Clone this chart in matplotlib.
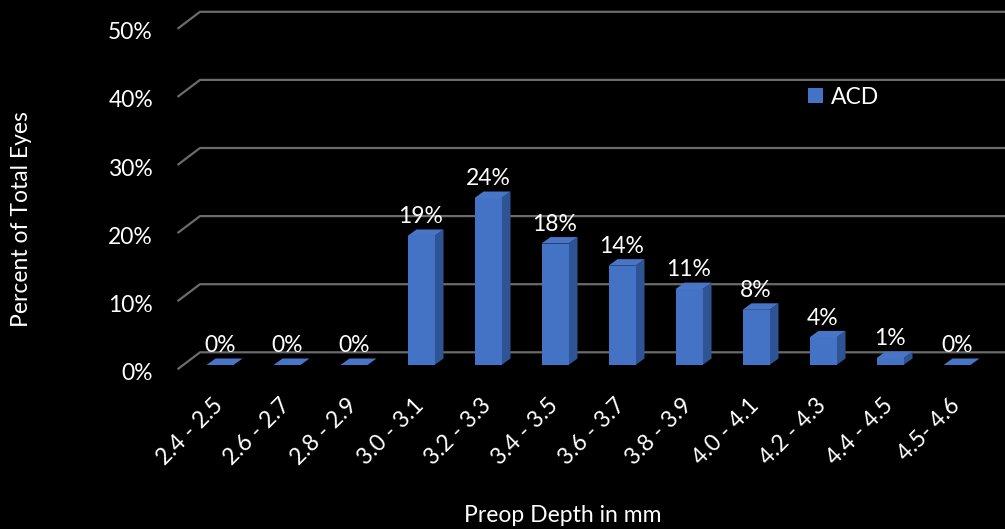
"""
Distribution of preop anterior chamber depth (ACD), drawn as an Excel-style
3D column chart on a black background.

Matplotlib has no oblique 3D bars, so the front faces are ordinary ax.bar
rectangles and the top / side faces are polygons offset by a fixed depth.
The back-wall gridlines live on their own axes because the wall sits a
little further back than the bars.
"""

import matplotlib.pyplot as plt
from matplotlib.patches import Polygon

plt.rcParams["font.family"] = ["Lato", "DejaVu Sans"]

# --- data ---------------------------------------------------------------
CATEGORIES = ["2.4 - 2.5", "2.6 - 2.7", "2.8 - 2.9", "3.0 - 3.1", "3.2 - 3.3",
              "3.4 - 3.5", "3.6 - 3.7", "3.8 - 3.9", "4.0 - 4.1", "4.2 - 4.3",
              "4.4 - 4.5", "4.5- 4.6"]
ACD_PCT = [0.0, 0.0, 0.0, 18.7, 24.2, 17.6, 14.4, 11.0, 8.0, 4.0, 1.0, 0.0]
Y_TICKS = [0, 10, 20, 30, 40, 50]
SERIES = "ACD"
X_LABEL = "Preop Depth in mm"
Y_LABEL = "Percent of Total Eyes"

# --- look & layout (pixels of a 1005x529 canvas) --------------------------
W, H, DPI = 1005, 529, 100
FRONT, SIDE, TOP = "#4472C4", "#2F5496", "#4875C6"
GRID = "#6b6b6b"
FS = 16.5

CAT0_PX, STEP_PX = 220, 67          # first category centre, category pitch
AX_LEFT_PX = 153
BAR_BASE_PX, BAR_SCALE = 365, 6.9   # y=0 of bar front faces, px per %
WALL_BASE_PX, WALL_SCALE = 352.3, 6.81
WALL_LEFT_PX, FRONT_LEFT_PX, FRONT_DROP_PX = 200, 177.5, 17
BAR_W = 27 / STEP_PX
DEPTH_X, DEPTH_Y = 9 / STEP_PX, 6.5 / BAR_SCALE


def px_x(px):
    return (px - CAT0_PX) / STEP_PX


def make_axes(fig, base_px, scale):
    ax = fig.add_axes([AX_LEFT_PX / W, (H - base_px) / H,
                       (W - AX_LEFT_PX) / W, base_px / H])
    ax.set_xlim(px_x(AX_LEFT_PX), px_x(W))
    ax.set_ylim(0, base_px / scale)
    ax.set_facecolor("none")
    for s in ax.spines.values():
        s.set_visible(False)
    ax.set_yticks([])
    return ax


def draw_wall(wall):
    wall.set_xticks([])
    x_front, x_back = px_x(FRONT_LEFT_PX), px_x(WALL_LEFT_PX)
    drop = FRONT_DROP_PX / WALL_SCALE
    for v in Y_TICKS:
        wall.plot([x_front, x_back, px_x(W) + 1], [v - drop, v, v],
                  color=GRID, lw=1.6, clip_on=False, solid_capstyle="butt")
        wall.text(px_x(AX_LEFT_PX), v - drop - 10.5 / WALL_SCALE, f"{v}%",
                  ha="right", va="baseline", color="white", fontsize=FS)


def draw_bars(ax):
    xs = list(range(len(CATEGORIES)))
    bars = ax.bar(xs, ACD_PCT, width=BAR_W, color=FRONT, label=SERIES,
                  clip_on=False, zorder=3)
    for x, v in zip(xs, ACD_PCT):
        l, r = x - BAR_W / 2, x + BAR_W / 2
        top = [(l, v), (r, v), (r + DEPTH_X, v + DEPTH_Y), (l + DEPTH_X, v + DEPTH_Y)]
        side = [(r, 0), (r + DEPTH_X, DEPTH_Y), (r + DEPTH_X, v + DEPTH_Y), (r, v)]
        ax.add_patch(Polygon(side, closed=True, color=SIDE, lw=0, zorder=2, clip_on=False))
        ax.add_patch(Polygon(top, closed=True, color=TOP, lw=0, zorder=2, clip_on=False))
        ax.annotate(f"{round(v)}%", xy=(x, v), xytext=(0, 9.2),
                    textcoords="offset points", ha="center", va="baseline",
                    color="white", fontsize=FS)

    ax.set_xticks(xs, CATEGORIES)
    ax.tick_params(axis="x", length=0, pad=26.6, colors="white", labelsize=FS)
    for lab in ax.get_xticklabels():
        lab.set_rotation(45)
        lab.set_ha("right")
        lab.set_va("center")
        lab.set_rotation_mode("anchor")
    return bars


def main():
    fig = plt.figure(figsize=(W / DPI, H / DPI), dpi=DPI, facecolor="black")

    wall = make_axes(fig, WALL_BASE_PX, WALL_SCALE)
    draw_wall(wall)
    ax = make_axes(fig, BAR_BASE_PX, BAR_SCALE)
    bars = draw_bars(ax)

    ax.legend(handles=[bars], labels=[SERIES], loc="center left",
              bbox_to_anchor=(808 / W, 1 - 97 / H), bbox_transform=fig.transFigure,
              frameon=False, fontsize=FS, labelcolor="white", borderpad=0,
              borderaxespad=0, handlelength=0.65, handleheight=0.65,
              handletextpad=0.36)

    fig.text(22 / W, 1 - 219 / H, Y_LABEL, rotation=90, ha="center",
             va="center", color="white", fontsize=FS)
    fig.text(563 / W, 1 - 521.7 / H, X_LABEL, ha="center", va="baseline",
             color="white", fontsize=FS)

    fig.savefig("out.png", dpi=DPI, facecolor="black")


if __name__ == "__main__":
    main()
